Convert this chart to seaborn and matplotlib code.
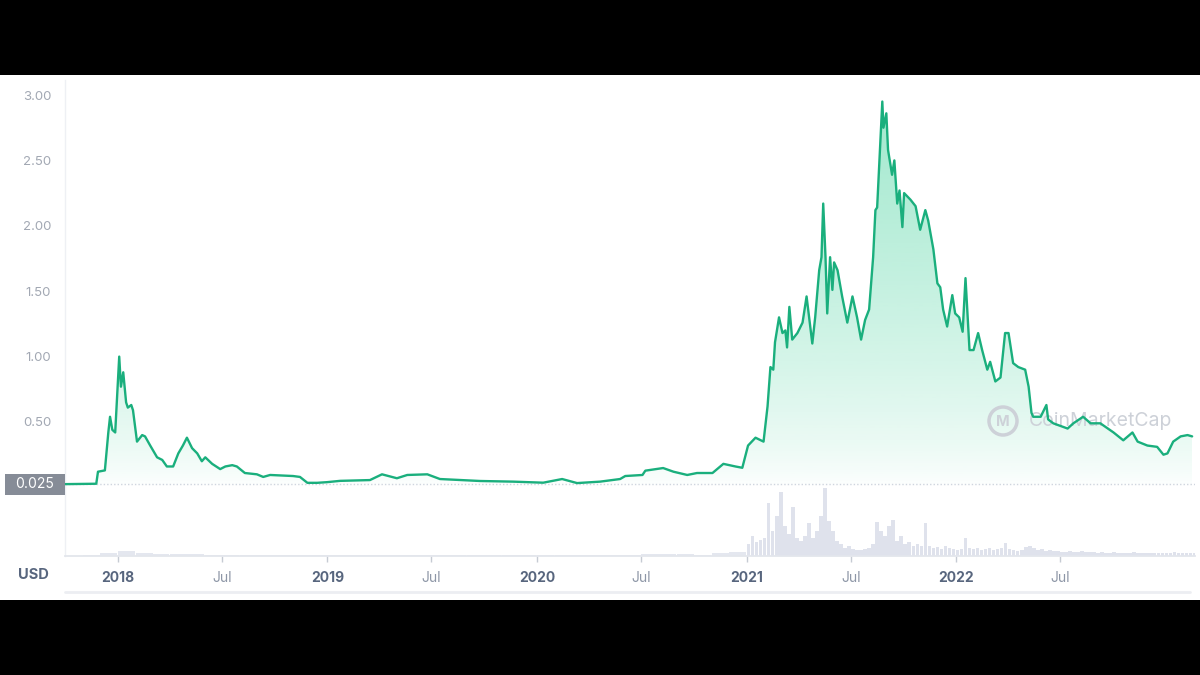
import matplotlib
matplotlib.use("Agg")
import matplotlib.pyplot as plt
import matplotlib.dates as mdates
import seaborn as sns
import numpy as np
import pandas as pd
from matplotlib.patches import Rectangle, Ellipse, PathPatch
from matplotlib.lines import Line2D

# ---------------- data ----------------
price_dates = [
    "2017-10-01", "2017-11-24", "2017-11-27", "2017-12-09", "2017-12-15", "2017-12-18", "2017-12-22", "2017-12-27",
    "2018-01-03", "2018-01-06", "2018-01-10", "2018-01-15", "2018-01-18", "2018-01-24", "2018-01-27", "2018-02-03",
    "2018-02-12", "2018-02-17", "2018-02-26", "2018-03-10", "2018-03-19", "2018-03-27", "2018-04-07", "2018-04-16",
    "2018-04-24", "2018-05-01", "2018-05-10", "2018-05-19", "2018-05-27", "2018-06-02", "2018-06-14", "2018-06-28",
    "2018-07-07", "2018-07-19", "2018-07-27", "2018-08-10", "2018-08-31", "2018-09-11", "2018-09-23", "2018-11-02",
    "2018-11-14", "2018-11-27", "2018-12-14", "2018-12-31", "2019-01-23", "2019-03-16", "2019-04-06", "2019-05-02",
    "2019-05-20", "2019-06-24", "2019-07-16", "2019-09-24", "2019-11-21", "2020-01-12", "2020-02-14", "2020-03-11",
    "2020-04-20", "2020-05-25", "2020-06-03", "2020-07-03", "2020-07-08", "2020-08-08", "2020-08-26", "2020-09-19",
    "2020-10-06", "2020-11-02", "2020-11-21", "2020-12-12", "2020-12-24", "2021-01-03", "2021-01-16", "2021-01-30",
    "2021-02-06", "2021-02-11", "2021-02-16", "2021-02-19", "2021-02-26", "2021-03-04", "2021-03-09", "2021-03-12",
    "2021-03-16", "2021-03-21", "2021-03-30", "2021-04-08", "2021-04-15", "2021-04-25", "2021-04-30", "2021-05-07",
    "2021-05-11", "2021-05-14", "2021-05-18", "2021-05-21", "2021-05-26", "2021-05-30", "2021-06-02", "2021-06-08",
    "2021-06-16", "2021-06-25", "2021-07-04", "2021-07-12", "2021-07-19", "2021-07-26", "2021-08-02", "2021-08-09",
    "2021-08-13", "2021-08-16", "2021-08-25", "2021-08-27", "2021-09-01", "2021-09-04", "2021-09-11", "2021-09-15",
    "2021-09-20", "2021-09-24", "2021-09-29", "2021-10-02", "2021-10-13", "2021-10-22", "2021-10-30", "2021-11-08",
    "2021-11-13", "2021-11-22", "2021-11-29", "2021-12-04", "2021-12-09", "2021-12-16", "2021-12-25", "2021-12-30",
    "2022-01-06", "2022-01-12", "2022-01-17", "2022-01-20", "2022-01-24", "2022-01-31", "2022-02-08", "2022-02-15",
    "2022-02-24", "2022-03-01", "2022-03-10", "2022-03-19", "2022-03-27", "2022-04-02", "2022-04-10", "2022-04-19",
    "2022-05-01", "2022-05-07", "2022-05-12", "2022-05-15", "2022-05-28", "2022-06-07", "2022-06-10", "2022-06-19",
    "2022-07-14", "2022-07-24", "2022-08-10", "2022-08-23", "2022-09-09", "2022-10-02", "2022-10-19", "2022-11-04",
    "2022-11-13", "2022-11-30", "2022-12-17", "2022-12-28", "2023-01-04", "2023-01-14", "2023-01-27", "2023-02-08",
    "2023-02-16",
]
price_values = [
    0.025, 0.028, 0.12, 0.13, 0.42, 0.54, 0.44, 0.42,
    1.00, 0.77, 0.88, 0.65, 0.61, 0.63, 0.59, 0.35,
    0.40, 0.39, 0.32, 0.23, 0.21, 0.16, 0.16, 0.26,
    0.32, 0.38, 0.30, 0.26, 0.20, 0.23, 0.18, 0.14,
    0.16, 0.17, 0.16, 0.11, 0.10, 0.08, 0.095, 0.087,
    0.08, 0.035, 0.035, 0.04, 0.05, 0.056, 0.10, 0.07,
    0.095, 0.10, 0.064, 0.049, 0.044, 0.036, 0.064, 0.033,
    0.044, 0.064, 0.087, 0.095, 0.128, 0.148, 0.12, 0.095,
    0.11, 0.11, 0.18, 0.16, 0.15, 0.32, 0.38, 0.35,
    0.62, 0.92, 0.90, 1.11, 1.30, 1.18, 1.20, 1.07,
    1.38, 1.13, 1.18, 1.26, 1.46, 1.10, 1.30, 1.66,
    1.76, 2.17, 1.76, 1.33, 1.76, 1.51, 1.72, 1.66,
    1.46, 1.26, 1.46, 1.30, 1.13, 1.28, 1.36, 1.76,
    2.12, 2.14, 2.95, 2.75, 2.86, 2.58, 2.39, 2.50,
    2.17, 2.27, 1.99, 2.25, 2.20, 2.15, 1.97, 2.12,
    2.04, 1.82, 1.56, 1.53, 1.36, 1.23, 1.47, 1.33,
    1.30, 1.19, 1.60, 1.36, 1.05, 1.05, 1.18, 1.05,
    0.90, 0.96, 0.81, 0.84, 1.18, 1.18, 0.95, 0.92,
    0.90, 0.77, 0.57, 0.54, 0.54, 0.63, 0.52, 0.49,
    0.45, 0.49, 0.54, 0.49, 0.49, 0.42, 0.36, 0.42,
    0.35, 0.32, 0.31, 0.25, 0.26, 0.35, 0.39, 0.40,
    0.39,
]

# relative trading volume (arbitrary units), monthly until end of 2020
vol_monthly_start = "2017-10-01"
vol_monthly = [
    0.5, 0.8, 3,
    5, 3, 2, 2, 2, 1.5, 1.5, 1, 1, 1, 1.2, 1,
    1, 1, 1, 1.2, 1.5, 1.5, 1.2, 1, 1, 1, 1, 1,
    1, 1.5, 1.5, 1, 1.5, 1.5, 2, 2.5, 2, 1.5, 3, 4,
]
# weekly from Jan 2021
vol_weekly_start = "2021-01-04"
vol_weekly = [
    12, 20, 14, 16, 18, 53, 25, 40, 64, 30,
    22, 49, 18, 15, 20, 33, 18, 25, 40, 68,
    35, 25, 15, 12, 8, 10, 7, 6, 6, 7,
    8, 12, 34, 25, 20, 30, 36, 15, 20, 12,
    14, 10, 12, 10, 33, 10, 8, 9, 7, 10,
    8, 7, 6, 7, 18, 8, 7, 8, 6, 7,
    8, 6, 7, 8, 13, 7, 6, 5, 6, 9,
    10, 8, 6, 7, 5, 6, 5, 5, 4, 4,
    5, 4, 4, 5, 4, 4, 4, 3, 4, 3,
    3, 4, 3, 3, 3, 3, 4, 3, 3, 3,
    3, 3, 3, 3, 3, 3, 4, 3, 3, 3,
    3, 3,
]

y_ticks = [0.5, 1.0, 1.5, 2.0, 2.5, 3.0]
y_tick_labels = ["0.50", "1.00", "1.50", "2.00", "2.50", "3.00"]
x_tick_dates = ["2018-01-01", "2018-07-01", "2019-01-01", "2019-07-01", "2020-01-01",
                "2020-07-01", "2021-01-01", "2021-07-01", "2022-01-01", "2022-07-01"]
x_tick_labels = ["2018", "Jul", "2019", "Jul", "2020", "Jul", "2021", "Jul", "2022", "Jul"]
ref_level = 0.025
ref_label = "0.025"

# ---------------- style ----------------
GREEN = "#1aaf7d"
GREEN_FILL = np.array([22, 199, 132]) / 255.0

sns.set_theme(style="white")
plt.rcParams["font.family"] = ["Inter", "DejaVu Sans"]

W, H = 1200, 675
def fx(px):
    return px / W
def fy(py):
    return 1 - py / H

fig = plt.figure(figsize=(12, 6.75), dpi=100, facecolor="black")
fig.patches.append(Rectangle((0, fy(600)), 1, fy(75) - fy(600), transform=fig.transFigure,
                             facecolor="white", edgecolor="none", zorder=-10))

ax = fig.add_axes([fx(65), fy(487.4), fx(1195) - fx(65), fy(80) - fy(487.4)])
axv = fig.add_axes([fx(65), fy(556), fx(1195) - fx(65), fy(487) - fy(556)], sharex=ax)
for a in (ax, axv):
    a.set_facecolor("none")

df = pd.DataFrame({"date": pd.to_datetime(price_dates), "price": price_values})
sns.lineplot(data=df, x="date", y="price", ax=ax, color=GREEN, linewidth=1.7, zorder=5)

xlim = (pd.Timestamp("2017-09-30 12:00"), pd.Timestamp("2023-02-21"))
ylim = (0, 407.4 / 130.8)

# gradient area fill under the line
xnum = mdates.date2num(df["date"])
poly = ax.fill_between(xnum, df["price"], 0, facecolor="none", edgecolor="none")
clip = PathPatch(poly.get_paths()[0], transform=ax.transData, facecolor="none", edgecolor="none")
ax.add_patch(clip)
ys = np.linspace(0, 1, 300)
img = np.zeros((300, 1, 4))
img[..., :3] = GREEN_FILL
img[..., 3] = (0.40 * ys ** 0.7)[:, None]
im = ax.imshow(img, extent=[xnum.min(), xnum.max(), 0, 3.0], origin="lower",
               aspect="auto", zorder=1, interpolation="bilinear")
im.set_clip_path(clip)

ax.axhline(ref_level, color="#cfd5de", linewidth=1, linestyle=(0, (1, 1.5)), zorder=2)

ax.set_xlim(*xlim)
ax.set_ylim(*ylim)
ax.set_yticks(y_ticks)
ax.set_yticklabels(y_tick_labels)
ax.tick_params(axis="y", length=0, pad=10, labelsize=9.5, labelcolor="#a2a8b3")
ax.tick_params(axis="x", bottom=False, labelbottom=False)
ax.set_xlabel("")
ax.set_ylabel("")
for s in ("top", "right", "bottom"):
    ax.spines[s].set_visible(False)
ax.spines["left"].set_color("#eef0f4")
ax.spines["left"].set_linewidth(1)

# volume bars
vm_dates = pd.date_range(vol_monthly_start, periods=len(vol_monthly), freq="MS") + pd.Timedelta(days=15)
vw_dates = pd.date_range(vol_weekly_start, periods=len(vol_weekly), freq="7D")
axv.bar(vm_dates, vol_monthly, width=30, color="#e4e7ef", linewidth=0)
axv.bar(vw_dates, vol_weekly, width=6.2, color="#dfe2ec", linewidth=0)
axv.set_ylim(0, 69)
axv.set_yticks([])
axv.set_xlim(*xlim)
axv.set_xticks(pd.to_datetime(x_tick_dates))
axv.set_xticklabels(x_tick_labels)
axv.tick_params(axis="x", bottom=True, length=4, width=1, color="#c6cbd3", pad=7, labelsize=10)
for lbl in axv.get_xticklabels():
    if lbl.get_text() == "Jul":
        lbl.set_color("#8e97a7")
    else:
        lbl.set_color("#58667e")
        lbl.set_fontweight("bold")
for s in ("top", "right"):
    axv.spines[s].set_visible(False)
axv.spines["bottom"].set_color("#e3e6ec")
axv.spines["bottom"].set_linewidth(1.3)
axv.spines["left"].set_color("#eef0f4")
axv.spines["left"].set_linewidth(1)
axv.set_xlabel("")

# reference value badge
fig.patches.append(Rectangle((fx(5), fy(495)), fx(65) - fx(5), fy(474) - fy(495),
                             transform=fig.transFigure, facecolor="#868c97", edgecolor="none", zorder=6))
fig.text(fx(35), fy(484.5), ref_label, color="white", fontsize=10, ha="center", va="center", zorder=7)

# currency label
fig.text(fx(18), fy(575), "USD", fontsize=10.5, fontweight="bold", color="#58667e", ha="left", va="center")

# bottom navigator line
fig.add_artist(Line2D([fx(65), fx(1190)], [fy(592), fy(592)], color="#eceef2", linewidth=2,
                      transform=fig.transFigure))

# watermark
wm_color = "#cdd1d8"
ax.add_artist(Ellipse((fx(1003), fy(421)), 28 / W, 28 / H, transform=fig.transFigure,
                      fill=False, edgecolor=wm_color, linewidth=2.5, zorder=3))
ax.text(fx(1003), fy(421.5), "M", transform=fig.transFigure, fontsize=10.5, fontweight="bold",
        color=wm_color, ha="center", va="center", zorder=3)
ax.text(fx(1029), fy(421), "CoinMarketCap", transform=fig.transFigure, fontsize=14,
        color=wm_color, ha="left", va="center", zorder=3)

fig.savefig("out.png", dpi=100, facecolor=fig.get_facecolor())
